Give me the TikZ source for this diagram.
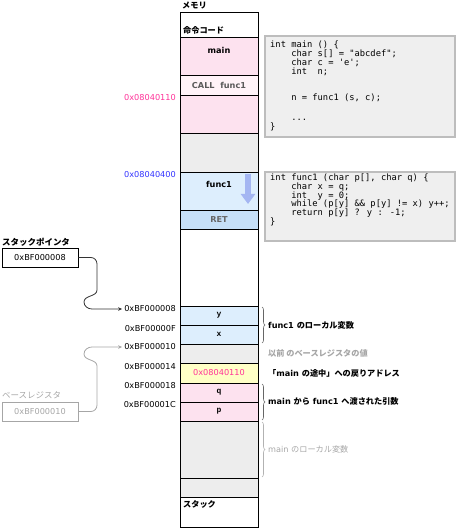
\documentclass[tikz,border=0pt]{standalone}
\usepackage{fontspec}
\setmainfont{DejaVu Sans}
\newfontfamily\jp{Noto Sans CJK JP}
\newfontfamily\code{DejaVu Sans Mono}
\newfontfamily\cour{Liberation Mono}
\usetikzlibrary{arrows.meta,decorations.pathreplacing}

\definecolor{pinkc}{HTML}{FDE2EF}
\definecolor{callc}{HTML}{FFF3F8}
\definecolor{grayc}{HTML}{EDEDED}
\definecolor{bluec}{HTML}{DDEEFD}
\definecolor{retc}{HTML}{C6E0F8}
\definecolor{yellc}{HTML}{FFFFC6}
\definecolor{magc}{HTML}{FF3399}
\definecolor{addrc}{HTML}{3333FF}
\definecolor{arrc}{HTML}{A4B6F2}
\definecolor{srcfill}{HTML}{EFEFEF}
\definecolor{srcline}{HTML}{BDBDBD}
\definecolor{dimc}{HTML}{A6A6A6}

\tikzset{
  cell/.style={draw=black, line width=0.8bp},
  addr/.style={anchor=east, inner sep=0},
  note/.style={anchor=west, inner sep=0, font=\fontsize{8.2}{9.5}\selectfont\bfseries},
  src/.style={anchor=north west, inner sep=0, align=left, font=\code\fontsize{8.8}{8.9}\selectfont},
  srcbox/.style={draw=srcline, fill=srcfill, line width=1.5bp},
  var/.style={inner sep=0, font=\cour\bfseries\fontsize{8}{9}\selectfont},
  regbox/.style={draw, minimum width=76bp, minimum height=19bp, inner sep=0, line width=0.8bp},
  link/.style={-{Stealth[length=4bp,width=3.5bp]}, line width=0.8bp},
  sbrace/.style={decorate, decoration={brace, amplitude=3bp}, line width=0.6bp}
}

\begin{document}
\begin{tikzpicture}[x=1bp,y=-1bp, font=\fontsize{8.2}{9.5}\selectfont]
      \useasboundingbox (0,0) rectangle (457,528);

      % memory column
      \node[anchor=west, inner sep=0] (mem) at (182,5) {\jp\bfseries メモリ};
      \draw[cell, fill=white] (180,12) rectangle (258,37);
      \node[anchor=west, inner sep=0] (text) at (183,30) {\jp\bfseries 命令コード};

      \draw[cell, fill=pinkc] (180,37) rectangle (258,75);
      \node (main) at (219,50) {\bfseries main};
      \draw[cell, fill=callc] (180,75) rectangle (258,95) node[pos=0.5, text=black!65] (call) {\bfseries CALL\ \ func1};
      \draw[cell, fill=pinkc] (180,95) rectangle (258,133);
      \draw[cell, fill=grayc] (180,133) rectangle (258,172);
      \draw[cell, fill=bluec] (180,172) rectangle (258,210);
      \node (func1) at (219,184) {\bfseries func1};
      \draw[-{Triangle[width=14bp,length=10bp]}, line width=6bp, arrc] (248,174) -- (248,204);
      \draw[cell, fill=retc] (180,210) rectangle (258,229) node[pos=0.5, text=black!60] (ret) {\bfseries RET};
      \draw[cell, fill=white] (180,229) rectangle (258,306);

      \draw[cell, fill=bluec] (180,306) rectangle (258,325) node[pos=0.5, var] (y) {y};
      \draw[cell, fill=bluec] (180,325) rectangle (258,344) node[pos=0.5, var] (x) {x};
      \draw[cell, fill=grayc] (180,344) rectangle (258,363);
      \draw[cell, fill=yellc] (180,363) rectangle (258,383) node[pos=0.5, text=magc] (ra) {0x08040110};
      \draw[cell, fill=pinkc] (180,383) rectangle (258,402) node[pos=0.5, var] (q) {q};
      \draw[cell, fill=pinkc] (180,402) rectangle (258,421) node[pos=0.5, var] (p) {p};
      \draw[cell, fill=grayc] (180,421) rectangle (258,478);
      \draw[cell, fill=grayc] (180,478) rectangle (258,497);
      \draw[cell, fill=white] (180,497) rectangle (258,527);
      \node[anchor=west, inner sep=0] (stack) at (183,504) {\jp\bfseries スタック};

      % addresses
      \node[addr, text=magc] (a110) at (176,98) {0x08040110};
      \node[addr, text=addrc] (a400) at (176,175) {0x08040400};
      \node[addr] (a08) at (176,309) {0xBF000008};
      \node[addr] (a0F) at (176,329) {0xBF00000F};
      \node[addr] (a10) at (176,347) {0xBF000010};
      \node[addr] (a14) at (176,367) {0xBF000014};
      \node[addr] (a18) at (176,386) {0xBF000018};
      \node[addr] (a1C) at (176,405) {0xBF00001C};

      % source code
      \draw[srcbox] (265,36) rectangle (455,137);
      \node[src] (mainsrc) at (270,41) {int main () \{\\
\ \ \ \ char s[] = "abcdef";\\
\ \ \ \ char c = 'e';\\
\ \ \ \ int\ \ n;\\[17bp]
\ \ \ \ n = func1 (s, c);\\[11bp]
\ \ \ \ ...\\
\}};
      \draw[srcbox] (265,172) rectangle (455,241);
      \node[src] (funcsrc) at (270,173.5) {int func1 (char p[], char q) \{\\
\ \ \ \ char x = q;\\
\ \ \ \ int\ \ y = 0;\\
\ \ \ \ while (p[y] \&\& p[y] != x) y++;\\
\ \ \ \ return p[y] ? y : -1;\\
\}};

      % registers
      \node[anchor=west, inner sep=0] (splbl) at (2,242) {\jp\bfseries\fontsize{8.5}{9}\selectfont スタックポインタ};
      \node[regbox] (sp) at (40,257.5) {0xBF000008};
      \draw[link, black!80]
        (sp.east) -- (91,257.5) to[out=0,in=90] (97,264) -- (97,290)
        to[out=-90,in=90] (84,302) to[out=-90,in=180] (92,309) -- ([xshift=-2bp]a08.west);

      \node[anchor=west, inner sep=0, text=dimc] (bplbl) at (2,395) {\jp\fontsize{8.5}{9}\selectfont ベースレジスタ};
      \node[regbox, draw=dimc, text=dimc] (bp) at (40,411.5) {0xBF000010};
      \draw[link, dimc]
        (bp.east) -- (91,411.5) to[out=0,in=-90] (97,405) -- (97,366)
        to[out=90,in=-90] (84,354) to[out=90,in=180] (92,347) -- ([xshift=-2bp]a10.west);

      % frame notes
      \draw[sbrace, black!60] (262,307) -- (262,343);
      \node[note] (locals) at (268,325) {func1 {\jp のローカル変数}};
      \node[note, text=dimc] (oldbp) at (268,353) {\jp 以前 のベースレジスタの値};
      \node[note] (retaddr) at (268,373) {{\jp 「}main {\jp の途中」への戻りアドレス}};
      \draw[sbrace, black!60] (262,384) -- (262,420);
      \node[note] (args) at (268,401) {main {\jp から} func1 {\jp へ渡された引数}};
      \draw[sbrace, black!30] (262,422) -- (262,477);
      \node[note, font=\fontsize{8.2}{9.5}\selectfont, text=dimc] (mainloc) at (268,449) {main {\jp のローカル変数}};

    \end{tikzpicture}
\end{document}
